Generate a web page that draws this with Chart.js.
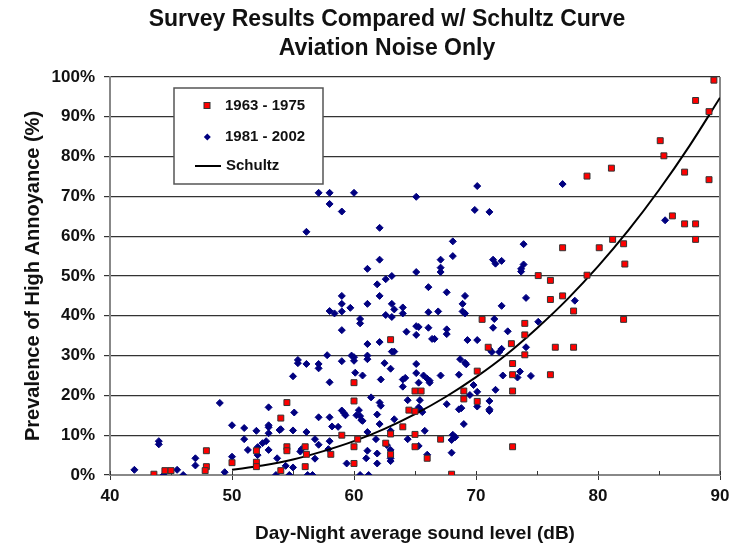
<!DOCTYPE html>
<html lang="en">
<head>
    <meta charset="UTF-8">
    <title>Survey Results Compared w/ Schultz Curve</title>
    <script src="https://cdn.jsdelivr.net/npm/chart.js"></script>
    <style>
        html, body { margin: 0; padding: 0; background: #fff; }
        #wrap { width: 736px; height: 545px; }
    </style>
</head>
<body>
    <div id="wrap"><canvas id="chart" width="736" height="545"></canvas></div>

    <script>
        const FONT = '"Liberation Sans", Arial, sans-serif';
        const titleLines = ['Survey Results Compared w/ Schultz Curve', 'Aviation Noise Only'];
        const seriesNames = ['1963 - 1975', '1981 - 2002', 'Schultz'];
        const xTitle = 'Day-Night average sound level (dB)';
        const yTitle = 'Prevalence of High Annoyance (%)';

        // 1963 - 1975 surveys (dB, % highly annoyed)
        const earlyDb = [43.6, 44.5, 45.0, 47.9, 47.9, 47.8, 50.0, 63.0, 60.0, 54.5, 60.0, 54.0, 64.5, 64.0, 59.0,
            60.3, 60.0, 63.0, 52.0, 54.5, 54.5, 56.0, 56.1, 58.1, 62.6, 63.0, 52.0, 52.0, 54.0, 56.0, 60.0,
            70.5, 74.0, 74.0, 75.1, 76.1, 76.1, 77.1, 77.1, 72.9, 71.0, 76.5, 74.0, 73.0, 73.0, 70.1, 76.1,
            65.0, 65.5, 69.0, 73.0, 69.0, 70.1, 65.0, 65.0, 67.1, 65.0, 66.0, 73.0, 68.0,
            89.5, 88.0, 89.1, 85.1, 85.4, 81.1, 79.1, 87.1, 89.1, 86.1, 87.1, 88.0, 81.2, 88.0, 80.1, 82.1,
            82.2, 79.1, 78.0, 82.1, 78.0];
        const earlyPct = [0.2, 1.1, 1.1, 6.1, 2.1, 1.1, 3.1, 34.0, 23.2, 18.2, 18.6, 14.3, 16.3, 12.1, 10.0,
            9.0, 7.1, 10.3, 6.1, 7.1, 6.1, 7.1, 5.2, 5.2, 8.0, 5.2, 3.2, 2.1, 1.1, 2.1, 2.9,
            39.1, 38.1, 35.2, 50.1, 48.9, 44.1, 57.1, 45.0, 33.0, 32.1, 32.1, 30.2, 28.0, 25.2, 26.1, 25.2,
            21.1, 21.1, 21.1, 21.1, 19.1, 18.5, 16.0, 10.2, 9.0, 7.1, 4.2, 7.1, 0.2,
            99.2, 94.1, 91.3, 84.0, 80.2, 77.1, 75.1, 76.1, 74.2, 65.1, 63.1, 63.1, 59.2, 59.2, 57.1, 58.1,
            53.0, 50.2, 41.2, 39.1, 32.1];

        // 1981 - 2002 surveys
        const lateDb = [42.0, 44.0, 44.0, 44.4, 45.5, 46.0, 47.0, 47.0, 49.0, 49.4, 50.0, 50.0, 51.0, 51.0, 51.3,
            59.0, 64.3, 61.1, 62.1, 63.1, 63.3, 57.8, 59.8, 60.0, 60.0, 61.1, 61.1, 55.4, 55.4, 56.1, 57.1,
            57.1, 59.0, 62.5, 63.0, 60.1, 60.7, 55.0, 58.0, 62.2, 64.0, 64.2, 64.0, 61.4, 62.1, 62.2, 64.4,
            53.0, 55.1, 59.0, 59.2, 59.3, 60.4, 60.2, 60.5, 60.6, 60.7, 57.1, 58.0, 61.9, 63.3, 62.1, 58.2,
            58.7, 52.0, 53.0, 53.0, 53.0, 53.9, 54.0, 55.0, 56.1, 61.1, 63.0, 52.5, 52.8, 52.1, 52.1, 53.0,
            55.6, 55.7, 56.8, 57.1, 58.0, 56.8, 57.9, 61.8, 62.7, 61.1, 61.9, 63.0, 63.0, 63.0, 64.4, 53.7,
            54.4, 55.0, 59.4, 61.9, 53.6, 54.7, 56.2, 56.6, 60.5, 61.2, 61.0,
            57.1, 58.0, 60.0, 58.0, 59.0, 56.1, 62.1, 62.1, 61.1, 62.6, 63.1, 61.9, 59.0, 62.1, 59.0, 59.7,
            61.1, 63.1, 63.3, 64.0, 64.0, 58.0, 58.4, 59.0, 62.6, 63.1, 60.5, 60.5,
            65.1, 70.1, 69.9, 71.1, 77.1, 68.1, 68.1, 67.1, 67.1, 67.1, 65.1, 71.4, 71.6, 72.1, 73.9, 73.9,
            73.7, 73.7, 66.1, 67.6, 69.1, 68.9, 68.9, 69.1, 66.1, 66.9, 72.1, 74.1, 71.5, 71.4, 72.6, 75.1,
            65.1, 65.3, 66.1, 65.1, 67.6, 67.6, 66.4, 66.6, 69.3, 70.1,
            71.1, 71.3, 71.9, 72.1, 74.1, 65.1, 65.1, 65.7, 66.0, 66.2, 66.2, 65.3, 67.1, 68.7, 69.1, 69.2,
            68.6, 69.8, 70.1, 69.5, 71.6, 72.2, 73.6, 73.4, 74.5, 65.4, 65.3, 65.5, 65.6, 67.6, 70.1, 71.1,
            71.1, 71.1, 68.6, 68.8, 69.0, 65.8, 68.1, 68.3, 68.0, 65.3, 66.0, 68.0, 85.5, 78.1];
        const latePct = [1.3, 8.5, 7.7, 0, 1.3, 0, 4.2, 2.4, 18.1, 0.7, 12.5, 4.6, 11.8, 9.0, 6.3,
            36.4, 36.0, 32.9, 33.4, 31.0, 31.0, 30.1, 30.0, 29.6, 28.7, 30.0, 29.1, 28.9, 28.1, 27.9, 27.9,
            26.8, 28.6, 28.1, 26.7, 25.7, 25.0, 24.8, 23.3, 24.0, 24.0, 24.4, 22.2, 19.5, 18.2, 17.4, 18.8,
            17.0, 15.7, 16.2, 15.5, 15.0, 16.3, 15.0, 14.8, 13.8, 13.6, 14.5, 14.5, 15.2, 14.0, 12.8, 12.2,
            12.1, 11.1, 12.5, 12.0, 10.5, 11.3, 11.5, 11.2, 10.8, 10.8, 11.1, 8.0, 8.5, 7.0, 5.0, 6.3,
            5.9, 6.5, 9.0, 7.6, 8.5, 4.1, 6.5, 9.0, 7.5, 6.1, 5.4, 6.3, 4.2, 3.5, 9.0, 4.2,
            2.3, 1.9, 2.9, 2.9, 0, 0, 0, 0, 0, 0, 4.2,
            70.9, 70.9, 70.9, 68.1, 66.2, 61.1, 62.1, 54.1, 51.8, 49.2, 50.0, 47.9, 45.0, 45.0, 43.0, 42.0,
            43.0, 43.0, 41.6, 42.1, 40.6, 41.2, 40.6, 41.1, 40.2, 39.7, 39.2, 38.1,
            69.9, 72.6, 66.6, 66.1, 73.1, 58.7, 55.0, 54.1, 52.1, 51.0, 51.0, 54.1, 53.1, 53.8, 58.0, 52.9,
            51.8, 51.1, 47.2, 45.9, 45.0, 43.0, 41.1, 40.6, 40.9, 41.1, 42.5, 44.5, 39.2, 37.0, 36.1, 38.5,
            37.4, 37.2, 37.0, 35.2, 36.6, 35.4, 34.2, 34.2, 33.9, 33.9,
            31.6, 30.9, 30.9, 31.7, 32.1, 27.9, 25.6, 25.0, 24.2, 23.7, 23.2, 23.2, 25.0, 29.1, 28.2, 27.8,
            25.2, 22.6, 20.9, 20.1, 21.4, 25.0, 26.0, 24.5, 24.9, 18.8, 17.0, 16.3, 15.8, 17.8, 17.2, 18.6,
            16.5, 16.1, 16.5, 16.8, 12.8, 11.1, 10.1, 9.5, 8.8, 7.3, 5.1, 5.6, 64.0, 43.8];

        // Schultz curve
        const schultzDb = [50, 52.5, 55, 57.5, 60, 62.5, 65, 67.5, 70, 72.5, 75, 77.5, 80, 82.5, 85, 87.5, 90];
        const schultzPct = [1.3, 2.4, 3.9, 6.0, 8.5, 11.6, 15.3, 19.6, 24.6, 30.3, 36.9, 44.2, 52.4, 61.5, 71.6, 82.7, 94.8];

        const yTicks = [0, 10, 20, 30, 40, 50, 60, 70, 80, 90, 100];
        const xMajor = [40, 50, 60, 70, 80, 90];
        const xMinor = [45, 55, 65, 75, 85];

        const toPoints = (xs, ys) => xs.map((x, i) => ({ x: x, y: ys[i] }));

        // title drawn by hand so it sits where the original does
        const titlePlugin = {
            id: 'twoLineTitle',
            afterDraw(chart) {
                const ctx = chart.ctx;
                ctx.save();
                ctx.font = 'bold 23px ' + FONT;
                ctx.fillStyle = '#111';
                ctx.textAlign = 'center';
                ctx.textBaseline = 'middle';
                ctx.fillText(titleLines[0], 387, 20);
                ctx.fillText(titleLines[1], 387, 49);
                ctx.restore();
            }
        };

        // right edge of the frame + small tick marks pointing into the plot
        const framePlugin = {
            id: 'frame',
            beforeDatasetsDraw(chart) {
                const { ctx, chartArea: a } = chart;
                const xs = chart.scales.x;
                ctx.save();
                ctx.strokeStyle = '#888';
                ctx.lineWidth = 2;
                ctx.beginPath();
                ctx.moveTo(a.right, a.top);
                ctx.lineTo(a.right, a.bottom);
                ctx.stroke();

                ctx.strokeStyle = '#333';
                ctx.lineWidth = 1;
                ctx.beginPath();
                xMajor.concat(xMinor).forEach(v => {
                    const px = Math.round(xs.getPixelForValue(v)) + 0.5;
                    ctx.moveTo(px, a.bottom);
                    ctx.lineTo(px, a.bottom - 4);
                });
                ctx.stroke();
                ctx.restore();
            }
        };

        // boxed legend inside the plot area
        const legendPlugin = {
            id: 'boxLegend',
            afterDatasetsDraw(chart) {
                const ctx = chart.ctx;
                const ds = chart.data.datasets;
                ctx.save();
                ctx.fillStyle = '#fff';
                ctx.strokeStyle = '#555';
                ctx.lineWidth = 1.5;
                ctx.fillRect(174, 88, 149, 96);
                ctx.strokeRect(174, 88, 149, 96);

                // square
                ctx.fillStyle = ds[0].backgroundColor;
                ctx.strokeStyle = ds[0].borderColor;
                ctx.lineWidth = 1;
                ctx.fillRect(204, 102.5, 6, 6);
                ctx.strokeRect(204, 102.5, 6, 6);

                // diamond
                ctx.fillStyle = ds[1].backgroundColor;
                ctx.beginPath();
                ctx.moveTo(203.8, 137);
                ctx.lineTo(207.3, 133.5);
                ctx.lineTo(210.8, 137);
                ctx.lineTo(207.3, 140.5);
                ctx.closePath();
                ctx.fill();

                // line
                ctx.strokeStyle = ds[2].borderColor;
                ctx.lineWidth = 2;
                ctx.beginPath();
                ctx.moveTo(195, 166);
                ctx.lineTo(221, 166);
                ctx.stroke();

                ctx.fillStyle = '#111';
                ctx.font = 'bold 15px ' + FONT;
                ctx.textBaseline = 'middle';
                ctx.fillText(seriesNames[0], 225, 106);
                ctx.fillText(seriesNames[1], 225, 137);
                ctx.fillText(seriesNames[2], 226, 166);
                ctx.restore();
            }
        };

        const ctx = document.getElementById('chart').getContext('2d');
        new Chart(ctx, {
            type: 'scatter',
            data: {
                datasets: [
                    {
                        label: seriesNames[0],
                        data: toPoints(earlyDb, earlyPct),
                        pointStyle: 'rect',
                        pointRadius: 4.2,
                        backgroundColor: '#ff0000',
                        borderColor: '#333333',
                        borderWidth: 1,
                        order: 0
                    },
                    {
                        label: seriesNames[1],
                        data: toPoints(lateDb, latePct),
                        pointStyle: 'rectRot',
                        pointRadius: 3.5,
                        backgroundColor: '#000080',
                        borderColor: '#000080',
                        borderWidth: 1,
                        order: 2
                    },
                    {
                        label: seriesNames[2],
                        data: toPoints(schultzDb, schultzPct),
                        showLine: true,
                        pointRadius: 0,
                        borderColor: '#000000',
                        borderWidth: 2,
                        cubicInterpolationMode: 'monotone',
                        order: 1
                    }
                ]
            },
            options: {
                responsive: false,
                animation: false,
                devicePixelRatio: 1,
                layout: {
                    autoPadding: false,
                    padding: { top: 77, right: 16, left: 0, bottom: 0 }
                },
                plugins: {
                    legend: { display: false },
                    title: { display: false },
                    tooltip: { enabled: false }
                },
                scales: {
                    x: {
                        type: 'linear',
                        min: 40,
                        max: 90,
                        ticks: {
                            stepSize: 10,
                            color: '#111',
                            padding: 6,
                            font: { family: FONT, size: 17, weight: 'bold' }
                        },
                        grid: { drawOnChartArea: false, tickLength: 5, color: '#333' },
                        border: { color: '#888', width: 2 },
                        title: {
                            display: true,
                            text: xTitle,
                            color: '#111',
                            padding: { top: 0, bottom: 0 },
                            font: { family: FONT, size: 19, weight: 'bold' }
                        },
                        afterFit(scale) { scale.height = 70; }
                    },
                    y: {
                        min: 0,
                        max: 100,
                        afterBuildTicks(scale) { scale.ticks = yTicks.map(v => ({ value: v })); },
                        ticks: {
                            color: '#111',
                            padding: 9,
                            font: { family: FONT, size: 17, weight: 'bold' },
                            callback: v => v + '%'
                        },
                        grid: { color: '#333', lineWidth: 1.2, tickLength: 6 },
                        border: { color: '#888', width: 2 },
                        title: {
                            display: true,
                            text: yTitle,
                            color: '#111',
                            padding: { top: 21, bottom: 0 },
                            font: { family: FONT, size: 20, weight: 'bold' }
                        },
                        afterFit(scale) { scale.width = 110; }
                    }
                }
            },
            plugins: [framePlugin, legendPlugin, titlePlugin]
        });
    </script>
</body>
</html>
